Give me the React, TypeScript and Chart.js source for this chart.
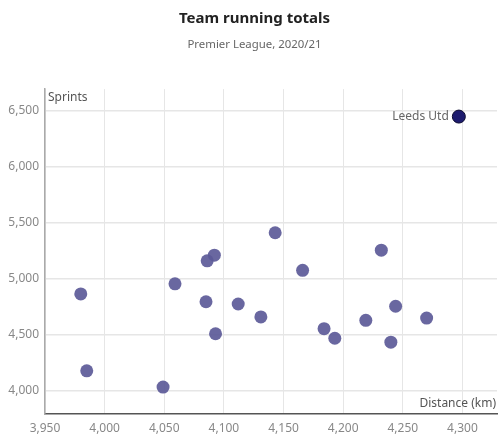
import React, { useEffect, useRef } from "react";
import { Chart, registerables } from "chart.js";

Chart.register(...registerables);

const distances = [3980, 3985, 4049, 4059, 4085, 4086, 4092, 4093, 4112, 4131, 4143, 4166, 4184, 4193, 4219, 4232, 4240, 4244, 4270];
const sprints = [4865, 4180, 4035, 4955, 4795, 5160, 5210, 4510, 4775, 4660, 5410, 5075, 4555, 4470, 4630, 5255, 4435, 4755, 4650];
const highlightName = "Leeds Utd";
const highlightDistance = [4297];
const highlightSprints = [6445];
const xTicks = [3950, 4000, 4050, 4100, 4150, 4200, 4250, 4300];
const yTicks = [4000, 4500, 5000, 5500, 6000, 6500];

const FONT = "'Noto Sans', sans-serif";

const overlay = {
  id: "overlayText",
  afterLayout(chart: any) {
    // shift the title and subtitle blocks slightly right, as in the reference
    chart.boxes.forEach((b: any) => {
      if (b && b.options && Object.prototype.hasOwnProperty.call(b.options, "text") && b.options.display) {
        b.left = 12;
      }
    });
  },
  afterDatasetsDraw(chart: any) {
    const { ctx, chartArea } = chart;
    ctx.save();
    ctx.font = `12px ${FONT}`;
    ctx.fillStyle = "#555555";
    ctx.textBaseline = "middle";
    ctx.textAlign = "left";
    ctx.fillText("Sprints", chartArea.left + 3, chartArea.top + 8);
    ctx.textAlign = "right";
    ctx.fillText("Distance (km)", chartArea.right - 1, chartArea.bottom - 10);
    const meta = chart.getDatasetMeta(1);
    const pt = meta.data[0];
    if (pt) {
      ctx.fillStyle = "#666666";
      ctx.fillText(highlightName, pt.x - 10, pt.y);
    }
    ctx.restore();
  },
};

export default function App() {
  const ref = useRef<HTMLCanvasElement>(null);
  useEffect(() => {
    if (!ref.current) return;
    const chart = new Chart(ref.current, {
      type: "scatter",
      data: {
        datasets: [
          {
            label: "Teams",
            data: distances.map((d, i) => ({ x: d, y: sprints[i] })),
            backgroundColor: "rgba(92,90,152,0.92)",
            borderColor: "rgba(92,90,152,0.92)",
            borderWidth: 0,
            pointRadius: 6.5,
          },
          {
            label: highlightName,
            data: highlightDistance.map((d, i) => ({ x: d, y: highlightSprints[i] })),
            backgroundColor: "#1d1b6e",
            borderColor: "#0d0c30",
            borderWidth: 1,
            pointRadius: 6.5,
          },
        ],
      },
      options: {
        responsive: false,
        animation: false,
        devicePixelRatio: 1,
        layout: { autoPadding: false, padding: { top: 0, left: 0, right: 3, bottom: 0 } },
        plugins: {
          legend: { display: false },
          tooltip: { enabled: false },
          title: {
            display: true,
            text: "Team running totals",
            color: "#222222",
            font: { family: FONT, size: 15, weight: "bold", lineHeight: 1.2 },
            padding: { top: 10, bottom: 0 },
          },
          subtitle: {
            display: true,
            text: "Premier League, 2020/21",
            color: "#666666",
            font: { family: FONT, size: 11.4, lineHeight: 1.2 },
            padding: { top: 10.2, bottom: 37.2 },
          },
        },
        scales: {
          x: {
            type: "linear",
            min: 3950,
            max: 4329,
            afterBuildTicks: (s: any) => {
              s.ticks = xTicks.map((v) => ({ value: v }));
            },
            afterFit: (s: any) => {
              s.height = 30;
              s.paddingRight = 0;
              s.paddingLeft = 0;
            },
            ticks: {
              color: "#888888",
              font: { family: FONT, size: 12 },
              padding: 7,
              maxRotation: 0,
              callback: (v: any) => Number(v).toLocaleString("en-US"),
            },
            grid: { color: "#e6e6e6", drawTicks: false },
            border: { color: "#555555", width: 1.5 },
          },
          y: {
            type: "linear",
            min: 3795,
            max: 6690,
            afterBuildTicks: (s: any) => {
              s.ticks = yTicks.map((v) => ({ value: v }));
            },
            afterFit: (s: any) => {
              s.width = 45;
              s.paddingTop = 0;
              s.paddingBottom = 0;
            },
            ticks: {
              color: "#888888",
              font: { family: FONT, size: 12 },
              padding: 6,
              callback: (v: any) => Number(v).toLocaleString("en-US"),
            },
            grid: { color: "#e6e6e6", drawTicks: false, lineWidth: 1.5 },
            border: { color: "#aaaaaa", width: 1.5 },
          },
        },
      },
      plugins: [overlay],
    });
    return () => chart.destroy();
  }, []);
  return (
    <div style={{ position: "absolute", left: 0, top: 0, width: 500, height: 444, background: "#fff" }}>
      <canvas ref={ref} width={500} height={444} style={{ width: 500, height: 444 }} />
    </div>
  );
}
